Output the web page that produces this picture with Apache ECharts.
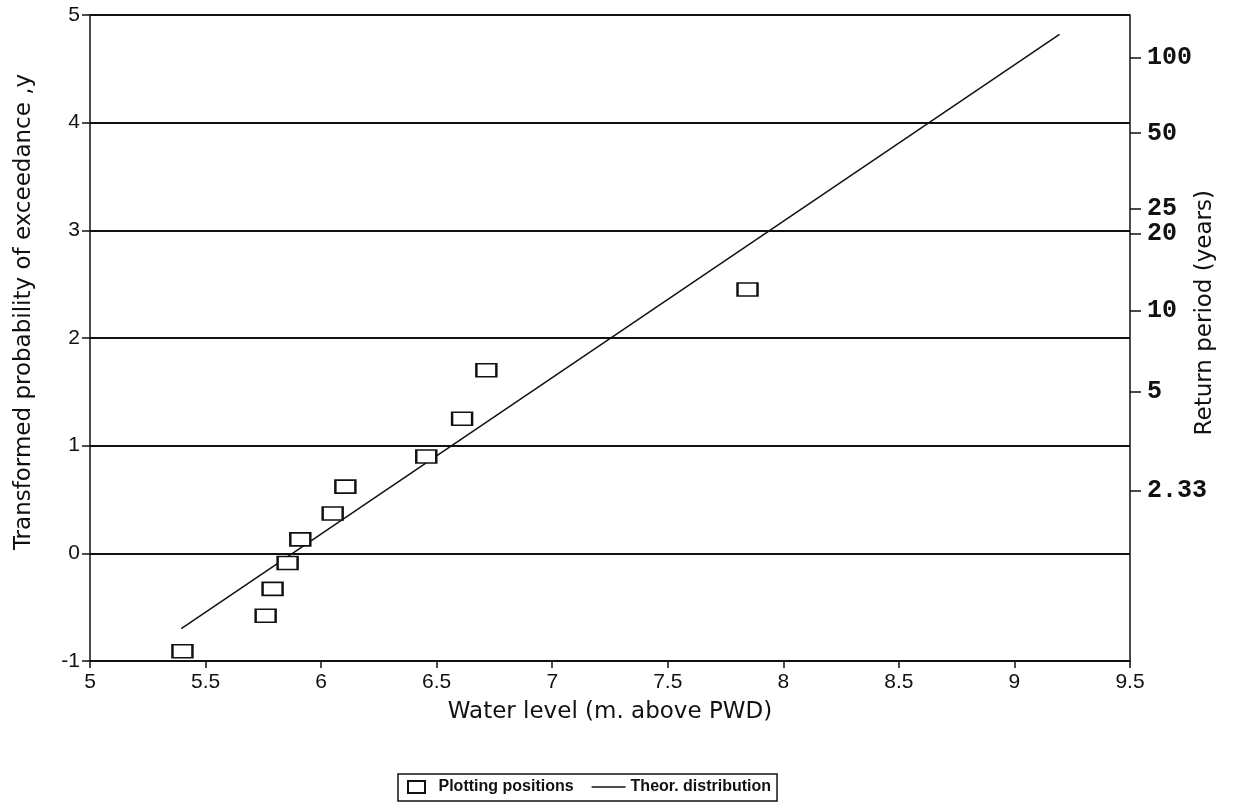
<!DOCTYPE html>
<html><head><meta charset="utf-8">
<script src="https://cdn.jsdelivr.net/npm/echarts@6/dist/echarts.min.js"></script>
<style>html,body{margin:0;padding:0;background:#fff}#c{width:1236px;height:809px}</style>
</head><body><div id="c"></div>
<script>
// Plotting positions (water level, reduced variate y)
const waterLevel = [5.40, 5.76, 5.79, 5.855, 5.91, 6.05, 6.105, 6.455, 6.61, 6.715, 7.845];
const reducedVariate = [-0.91, -0.58, -0.33, -0.09, 0.13, 0.37, 0.62, 0.90, 1.25, 1.70, 2.45];
// Theoretical distribution line end points
const theorX = [5.395, 9.195];
const theorY = [-0.70, 4.82];
// Right axis: return periods
const returnPeriods = [2.33, 5, 10, 20, 25, 50, 100];
const returnLabels = ['2.33', '5', '10', '20', '25', '50', '100'];

const gumbel = T => -Math.log(-Math.log(1 - 1 / T));
const rightTicks = returnPeriods.map(gumbel);
const ink = '#111';

const chart = echarts.init(document.getElementById('c'), null, {renderer: 'canvas'});
chart.setOption({
  backgroundColor: '#fff',
  animation: false,
  grid: {left: 90, right: 106, top: 15, bottom: 148, containLabel: false},
  legend: {
    left: 398, top: 774,
    orient: 'horizontal',
    borderColor: ink, borderWidth: 1.5, borderRadius: 0,
    padding: [5, 6, 6, 9],
    itemWidth: 34, itemHeight: 12, itemGap: 18,
    textStyle: {fontFamily: 'Liberation Sans', fontWeight: 'bold', fontSize: 16, color: ink},
    data: [
      {name: 'Plotting positions', icon: 'path://M0,0 L17,0 L17,12 L0,12 Z'},
      {name: 'Theor. distribution', icon: 'path://M0,0 L34,0 L34,1.6 L0,1.6 Z'}
    ]
  },
  xAxis: {
    type: 'value', min: 5, max: 9.5, interval: 0.5,
    name: 'Water level (m. above PWD)', nameLocation: 'middle', nameGap: 40,
    nameTextStyle: {fontFamily: 'DejaVu Sans', fontSize: 23, color: ink},
    axisLine: {show: true, onZero: false, lineStyle: {color: ink, width: 2}},
    axisTick: {show: true, inside: false, length: 7, lineStyle: {color: ink, width: 1.5}},
    axisLabel: {fontFamily: 'Liberation Sans', fontSize: 21, color: ink, margin: 11},
    splitLine: {show: false}
  },
  yAxis: [{
    type: 'value', min: -1, max: 5, interval: 1, position: 'left',
    name: 'Transformed probability of exceedance ,y', nameLocation: 'middle', nameGap: 54,
    nameTextStyle: {fontFamily: 'DejaVu Sans', fontSize: 23, color: ink, padding: [0, 0, 0, 52]},
    axisLine: {show: true, onZero: false, lineStyle: {color: ink, width: 1.5}},
    axisTick: {show: true, inside: false, length: 8, lineStyle: {color: ink, width: 1.5}},
    axisLabel: {fontFamily: 'Liberation Sans', fontSize: 21, color: ink, margin: 10},
    splitLine: {show: true, lineStyle: {color: ink, width: 2}}
  }, {
    type: 'value', min: -1, max: 5, position: 'right',
    axisLine: {show: true, onZero: false, lineStyle: {color: ink, width: 1.5}},
    axisTick: {show: true, inside: false, length: 11, customValues: rightTicks, lineStyle: {color: ink, width: 1.5}},
    axisLabel: {
      customValues: rightTicks,
      fontFamily: 'Liberation Mono', fontWeight: 'bold', fontSize: 25, color: ink, margin: 17,
      formatter: v => {
        let best = 0;
        rightTicks.forEach((t, i) => { if (Math.abs(t - v) < Math.abs(rightTicks[best] - v)) best = i; });
        return returnLabels[best];
      }
    },
    splitLine: {show: false}
  }],
  graphic: [{
    type: 'text', left: 1194, top: 190, rotation: Math.PI / 2,
    style: {text: 'Return period (years)', fontFamily: 'DejaVu Sans', fontSize: 23, fill: ink}
  }],
  series: [{
    name: 'Theor. distribution', type: 'line',
    data: theorX.map((x, i) => [x, theorY[i]]),
    symbol: 'none', z: 2,
    lineStyle: {color: ink, width: 1.5},
    itemStyle: {color: ink}
  }, {
    name: 'Plotting positions', type: 'scatter',
    data: waterLevel.map((x, i) => [x, reducedVariate[i]]),
    symbol: 'rect', symbolSize: [20, 13], z: 3,
    itemStyle: {color: '#fff', borderColor: ink, borderWidth: 2, opacity: 1}
  }]
});
</script></body></html>
